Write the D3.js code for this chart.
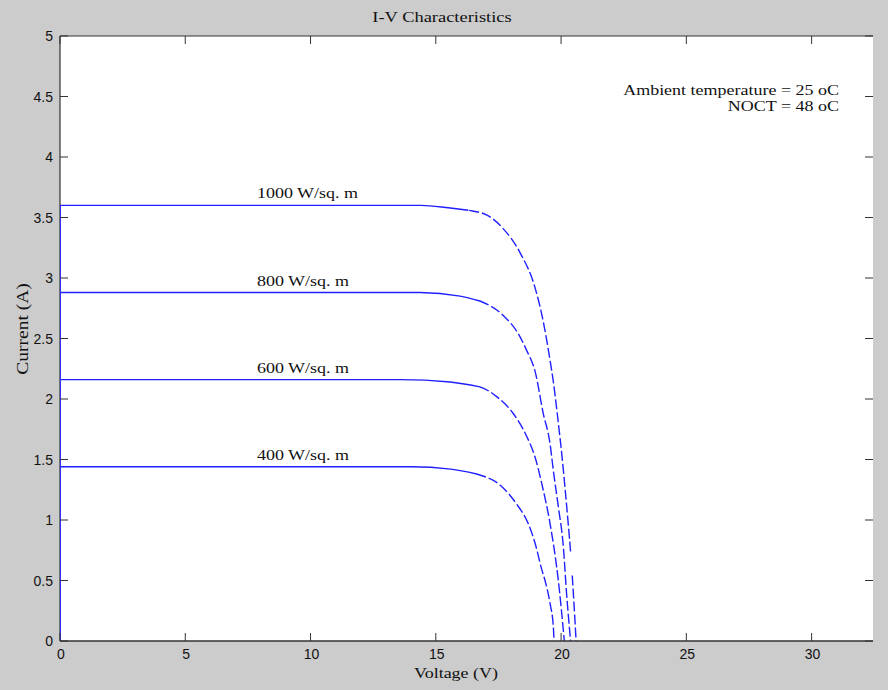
<!DOCTYPE html>
<html>
<head>
<meta charset="utf-8">
<script src="https://cdn.jsdelivr.net/npm/d3@7"></script>
<style>
  body { margin: 0; background: #cccccc; }
  svg { display: block; }
  .tick-label { font-family: "Liberation Sans", Arial, sans-serif; font-size: 14px; fill: #111; }
  .serif { font-family: "Liberation Serif", "Times New Roman", serif; font-size: 15px; fill: #111; }
</style>
</head>
<body>
<svg id="chart" width="888" height="690"></svg>
<script>
// I-V curves, one pair of arrays per irradiance level
var irradiance = [1000, 800, 600, 400];
var curveLabels = ["1000 W/sq. m", "800 W/sq. m", "600 W/sq. m", "400 W/sq. m"];

var v1000 = [0, 0, 14.4, 15.5, 16.3, 17.04, 17.68, 18.36, 18.96, 19.28, 19.56, 19.68, 19.88, 20.04, 20.16, 20.28, 20.4, 20.5, 20.6];
var i1000 = [0, 3.60, 3.60, 3.58, 3.56, 3.52, 3.41, 3.21, 2.92, 2.65, 2.32, 2.16, 1.82, 1.52, 1.26, 0.98, 0.68, 0.36, 0];

var v800 = [0, 0, 14.37, 15.97, 16.76, 17.69, 18.29, 18.63, 18.96, 19.29, 19.56, 19.69, 19.89, 20.09, 20.22, 20.38];
var i800 = [0, 2.88, 2.88, 2.85, 2.81, 2.69, 2.54, 2.40, 2.23, 1.88, 1.63, 1.41, 1.11, 0.78, 0.39, 0];

var v600 = [0, 0, 13.57, 15.57, 16.76, 17.43, 18.09, 18.63, 18.96, 19.23, 19.56, 19.89, 20.13];
var i600 = [0, 2.16, 2.16, 2.14, 2.10, 2.02, 1.88, 1.69, 1.52, 1.30, 0.97, 0.50, 0];

var v400 = [0, 0, 14.0, 15.6, 16.63, 17.56, 18.23, 18.69, 18.96, 19.23, 19.36, 19.56, 19.69, 19.72];
var i400 = [0, 1.44, 1.44, 1.42, 1.38, 1.29, 1.13, 0.97, 0.81, 0.59, 0.50, 0.31, 0.12, 0];

var voltages = [v1000, v800, v600, v400];
var currents = [i1000, i800, i600, i400];

var xTicks = [0, 5, 10, 15, 20, 25, 30];
var yTicks = [0, 0.5, 1, 1.5, 2, 2.5, 3, 3.5, 4, 4.5, 5];
var labelVoltage = 7.86;   // where the irradiance labels start
var kneeVoltage = 17;      // the line looks broken after this

var notes = ["Ambient temperature = 25 oC", "NOCT = 48 oC"];

var svg = d3.select("#chart");
var plotL = 60, plotR = 873, plotT = 36, plotB = 641;

var x = d3.scaleLinear().domain([0, 32.45]).range([plotL, plotR]);
var y = d3.scaleLinear().domain([0, 5]).range([plotB, plotT]);

// plot area
svg.append("rect")
    .attr("x", plotL).attr("y", plotT)
    .attr("width", plotR - plotL).attr("height", plotB - plotT)
    .attr("fill", "#fff");

// curves
var line = d3.line()
    .curve(d3.curveMonotoneX)
    .x(function(d) { return x(d.v); })
    .y(function(d) { return y(d.i); });

irradiance.forEach(function(g, k) {
  // first point (0,0) is the vertical rise, drawn below with the axis
  var pts = voltages[k].map(function(v, j) { return {v: v, i: currents[k][j]}; }).slice(1);
  var flat = pts.filter(function(d) { return d.v <= kneeVoltage; });
  var knee = pts.filter(function(d) { return d.v >= flat[flat.length - 2].v; });

  svg.append("path")
      .datum(flat)
      .attr("d", line)
      .attr("fill", "none")
      .attr("stroke", "#2020ff")
      .attr("stroke-width", 1.4);

  // knee drawn from one point earlier so both pieces share a bend
  var kneePath = svg.append("path")
      .datum(knee)
      .attr("d", line)
      .attr("fill", "none")
      .attr("stroke", "#2020ff")
      .attr("stroke-width", 1.4);
  var skip = Math.ceil(x(flat[flat.length - 1].v) - x(flat[flat.length - 2].v));
  kneePath.attr("stroke-dasharray", "0," + skip + ",10,3,10,3,10,3,10,3,10,3,10,3,10,3,10,3,10,3,10,3,10,3,10,3,10,3,10,3,10,3,10,3,10,3,10,3,10,3,10,3,10,3,10,3,10,3,10,3,10,3,10,3,10,3,10,3,10,3");

  svg.append("g")
      .attr("transform", "translate(" + x(labelVoltage) + "," + (y(currents[k][1]) - 7) + ")")
    .append("text")
      .attr("class", "serif")
      .attr("transform", "scale(1.2,1)")
      .text(curveLabels[k]);
});

// axes lines
var axisColor = "#333";
svg.append("line").attr("x1", plotL).attr("x2", plotR).attr("y1", plotB).attr("y2", plotB)
    .attr("stroke", axisColor).attr("stroke-width", 1.6);
svg.append("line").attr("x1", plotL).attr("x2", plotR).attr("y1", plotT).attr("y2", plotT)
    .attr("stroke", axisColor).attr("stroke-width", 1.2);
svg.append("line").attr("x1", plotL).attr("x2", plotL).attr("y1", plotT).attr("y2", plotB)
    .attr("stroke", axisColor).attr("stroke-width", 1.2);
// blue rise at V = 0 sits over the axis
irradiance.forEach(function(g, k) {
  svg.append("line")
      .attr("x1", x(voltages[k][0]) + 0.5).attr("x2", x(voltages[k][1]) + 0.5)
      .attr("y1", y(currents[k][0])).attr("y2", y(currents[k][1]))
      .attr("stroke", "#3030ff").attr("stroke-width", 1);
});

// ticks, inward on all four sides
var tickLen = 8;
xTicks.forEach(function(t) {
  svg.append("line").attr("x1", x(t)).attr("x2", x(t)).attr("y1", plotB).attr("y2", plotB - tickLen)
      .attr("stroke", axisColor);
  svg.append("line").attr("x1", x(t)).attr("x2", x(t)).attr("y1", plotT).attr("y2", plotT + tickLen)
      .attr("stroke", axisColor);
  svg.append("text")
      .attr("class", "tick-label")
      .attr("x", x(t) + 1).attr("y", plotB + 18)
      .attr("text-anchor", "middle")
      .text(t);
});
yTicks.forEach(function(t) {
  svg.append("line").attr("x1", plotL).attr("x2", plotL + tickLen).attr("y1", y(t)).attr("y2", y(t))
      .attr("stroke", axisColor);
  svg.append("line").attr("x1", plotR).attr("x2", plotR - tickLen).attr("y1", y(t)).attr("y2", y(t))
      .attr("stroke", axisColor);
  svg.append("text")
      .attr("class", "tick-label")
      .attr("x", plotL - 7).attr("y", y(t) + 5)
      .attr("text-anchor", "end")
      .text(t);
});

// title and axis labels
function serifText(tx, ty, str, anchor, rotate) {
  var g = svg.append("g")
      .attr("transform", "translate(" + tx + "," + ty + ")" + (rotate ? " rotate(-90)" : ""));
  return g.append("text")
      .attr("class", "serif")
      .attr("text-anchor", anchor)
      .attr("transform", "scale(1.2,1)")
      .text(str);
}
serifText(442, 22, "I-V Characteristics", "middle").attr("transform", "scale(1.23,1)");
serifText(456, 678, "Voltage (V)", "middle");
serifText(28, 329, "Current (A)", "middle", true).style("font-size", "16px").attr("transform", "scale(1.22,1)");

// notes, top right
notes.forEach(function(s, k) {
  serifText(839, 95 + k * 16, s, "end");
});
</script>
</body>
</html>
